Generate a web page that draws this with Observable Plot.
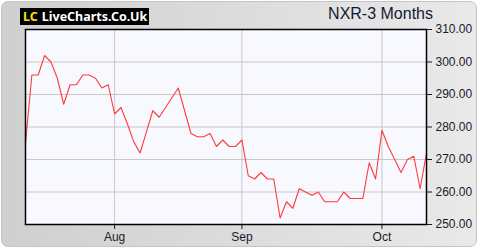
<!DOCTYPE html>
<html>
<head>
<meta charset="utf-8">
<script src="https://cdn.jsdelivr.net/npm/d3@7"></script>
<script src="https://cdn.jsdelivr.net/npm/@observablehq/plot@0.6"></script>
<style>
  html, body { margin: 0; padding: 0; background: #fff; }
  #wrap { position: relative; width: 480px; height: 250px; overflow: hidden; }
  #bg { position: absolute; left: 1px; top: 1px; width: 476px; height: 246px; border-radius: 7px;
        border: 1px solid #c4c4c4; background: linear-gradient(to right, #cfcfcf, #e9e9e9); box-sizing: border-box; }
  #logo { position: absolute; left: 20px; top: 8px; width: 129px; height: 17px; background: #000;
          font: bold 12.5px "Noto Sans", "Open Sans", sans-serif; line-height: 17px; color: #fff; white-space: nowrap; overflow: hidden; }
  #logo span.lc { color: #f2e600; margin-left: 3px; margin-right: 4px; }
  #title { position: absolute; right: 47px; top: 5px; font: 16px "Liberation Sans", Arial, sans-serif; color: #141a33; }
  #chart { position: absolute; left: 0; top: 0; }
</style>
</head>
<body>
<div id="wrap">
  <div id="bg"></div>
  <div id="logo"><span class="lc">LC</span>LiveCharts.Co.Uk</div>
  <div id="title">NXR-3 Months</div>
  <div id="chart"></div>
</div>
<script>
// Closing prices by trading-day index
const prices = [275, 296, 296, 302, 300, 295, 287, 293, 293, 296,
                296, 295, 292, 293, 284, 286, 281, 275.5, 272, 278.5,
                285, 283, 286, 289, 292, 285, 278, 277, 277, 278,
                274, 276, 274, 274, 276, 265, 264, 266, 264, 264,
                252, 257, 255, 261, 260, 259, 260, 257, 257, 257,
                260, 258, 258, 258, 269, 264, 279, 274, 270, 266,
                270, 271, 261, 272];
const monthTickIndex = [14, 34, 56];
const monthLabels = ["Aug", "Sep", "Oct"];
const yTicks = [250, 260, 270, 280, 290, 300, 310];

const data = prices.map((p, i) => ({i, p}));
const labelOf = new Map(monthTickIndex.map((t, k) => [t, monthLabels[k]]));

const chart = Plot.plot({
  width: 480,
  height: 250,
  marginLeft: 25,
  marginRight: 54,
  marginTop: 29,
  marginBottom: 26,
  style: {background: "transparent", fontFamily: "'Liberation Sans', Arial, sans-serif", fontSize: "12px", color: "#1a1a2e"},
  x: {domain: [0, prices.length - 1], label: null},
  y: {domain: [250, 310], label: null},
  marks: [
    Plot.frame({fill: "#f8f8ff"}),
    Plot.gridX(monthTickIndex, {stroke: "#c8c8c8", strokeOpacity: 1}),
    Plot.gridY(yTicks, {stroke: "#c8c8c8", strokeOpacity: 1}),
    Plot.axisX({ticks: monthTickIndex, tickFormat: d => labelOf.get(d), label: null, tickSize: 5, tickPadding: 3, fontSize: 12}),
    Plot.axisY({anchor: "right", ticks: yTicks, tickFormat: d => d.toFixed(2), label: null, tickSize: 5, tickPadding: 4, fontSize: 12}),
    Plot.line(data, {x: "i", y: "p", stroke: "#ff3b3b", strokeWidth: 1.1}),
    Plot.frame({stroke: "#000", strokeWidth: 1.5})
  ]
});
document.getElementById("chart").appendChild(chart);
</script>
</body>
</html>
